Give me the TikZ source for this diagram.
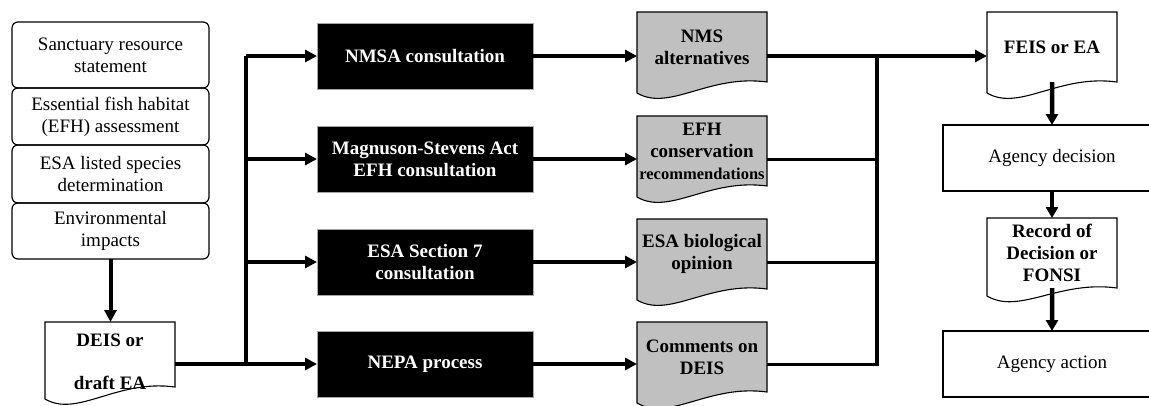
\documentclass[tikz,border=0pt]{standalone}
\usepackage{fontspec}
\setmainfont{Liberation Serif}
\usetikzlibrary{arrows.meta,calc}
\pgfdeclarelayer{background}
\pgfsetlayers{background,main}
\definecolor{docgray}{RGB}{192,192,192}
\tikzset{
  base/.style={font=\fontsize{19bp}{22bp}\selectfont, align=center, inner sep=0pt, outer sep=0pt, anchor=north west},
  stackbox/.style={base, draw, line width=1.2bp, rounded corners=6bp, minimum width=197bp},
  blackbox/.style={base, fill=black, draw=gray!70, line width=0.8bp, text=white,
    font=\bfseries\fontsize{19bp}{22bp}\selectfont, minimum width=216bp, minimum height=66bp},
  docnode/.style={base, font=\bfseries\fontsize{19bp}{22bp}\selectfont, minimum width=130bp},
  plainbox/.style={base, minimum width=218bp, minimum height=66bp},
  boxline/.style={draw=black, line width=1.2bp},
  docline/.style={draw=black, line width=1.1bp},
  flow/.style={line width=4bp, -{Triangle[length=12bp,width=12bp]}},
  dflow/.style={line width=4.5bp, -{Triangle[length=11bp,width=12bp]}},
  busline/.style={line width=4bp},
  thinbus/.style={line width=3bp},
}
\newcommand\docshape[4]{%
  \path[#4] (#1.north west) -- (#1.north east) -- ($(#1.north east)+(0,#2)$)
    .. controls ($(#1.north east)!0.45!(#1.north west)+(0,#2-8)$)
    and ($(#1.north east)!0.75!(#1.north west)+(0,#3+19)$)
    .. ($(#1.north west)+(0,#3)$) -- cycle;}
\begin{document}
\begin{tikzpicture}[x=1bp,y=-1bp]
\useasboundingbox (0,0) rectangle (1149,405);

% left stack
\node[stackbox, minimum height=66bp] (s1) at (12,22) {Sanctuary resource\\statement};
\node[stackbox, minimum height=57bp] (s2) at (12,88) {Essential fish habitat\\(EFH) assessment};
\node[stackbox, minimum height=58bp] (s3) at (12,145) {ESA listed species\\determination};
\node[stackbox, minimum height=56bp] (s4) at (12,203) {Environmental\\impacts};

% DEIS doc
\node[docnode, minimum height=80bp] (deis) at (45,322) {DEIS or\\[21bp]draft EA};

% black boxes
\node[blackbox] (b1) at (317,23) {NMSA consultation};
\node[blackbox] (b2) at (317,126) {Magnuson-Stevens Act\\EFH consultation};
\node[blackbox] (b3) at (317,229) {ESA Section 7\\consultation};
\node[blackbox] (b4) at (317,331) {NEPA process};

% gray docs
\node[docnode, minimum height=70bp] (g1) at (637,12) {NMS\\alternatives};
\node[docnode, minimum height=70bp] (g2) at (637,116) {EFH\\conservation\\{\fontsize{16.5bp}{20bp}\selectfont recommendations}};
\node[docnode, minimum height=70bp] (g3) at (637,219) {ESA biological\\opinion};
\node[docnode, minimum height=70bp] (g4) at (637,322) {Comments on\\DEIS};

% right column
\node[docnode, minimum height=70bp] (feis) at (987,12) {FEIS or EA};
\node[plainbox] (dec) at (943,125) {Agency decision};
\node[docnode, minimum height=70bp] (rod) at (987,218) {Record of\\Decision or\\FONSI};
\node[plainbox] (act) at (943,331) {Agency action};

\begin{pgfonlayer}{background}
  \docshape{deis}{65}{77}{docline, fill=white}
  \docshape{g1}{70}{81}{docline, fill=docgray}
  \docshape{g2}{70}{81}{docline, fill=docgray}
  \docshape{g3}{70}{81}{docline, fill=docgray}
  \docshape{g4}{70}{81}{docline, fill=docgray}
  \docshape{feis}{70}{81}{docline, fill=white}
  \docshape{rod}{70}{78}{docline, fill=white}
\end{pgfonlayer}

% agency boxes, open at the right edge
\draw[boxline] ($(dec.north west)+(208,0)$) -- (dec.north west) -- (dec.south west) -- ++(208,0);
\draw[boxline] ($(act.north west)+(208,0)$) -- (act.north west) -- (act.south west) -- ++(208,0);

% connectors
\draw[flow] (s4.south) -- (s4.south |- deis.north);
\coordinate (trunk) at (246,0);
\coordinate (bus) at (877,0);
\draw[flow] (deis.east |- b4.west) -- (b4.west);
\draw[busline] (trunk |- b4.west) -- (trunk |- b1.west);
\draw[flow] (trunk |- b1.west) -- (b1.west);
\draw[flow] (trunk |- b2.west) -- (b2.west);
\draw[flow] (trunk |- b3.west) -- (b3.west);

\draw[flow] (b1.east) -- (b1.east -| g1.west);
\draw[flow] (b2.east) -- (b2.east -| g2.west);
\draw[flow] (b3.east) -- (b3.east -| g3.west);
\draw[flow] (b4.east) -- (b4.east -| g4.west);

\draw[busline, line cap=rect] (bus |- b4.east) -- (bus |- b1.east);
\draw[thinbus] (g2.east |- b2.east) -- (bus |- b2.east);
\draw[thinbus] (g3.east |- b3.east) -- (bus |- b3.east);
\draw[thinbus] (g4.east |- b4.east) -- (bus |- b4.east);
\draw[flow] (g1.east |- b1.east) -- (b1.east -| feis.west);

\draw[dflow] (feis.south) -- (dec.north);
\draw[dflow] (dec.south -| rod.north) -- (rod.north);
\draw[dflow] (rod.south) -- (act.north);
\end{tikzpicture}
\end{document}
